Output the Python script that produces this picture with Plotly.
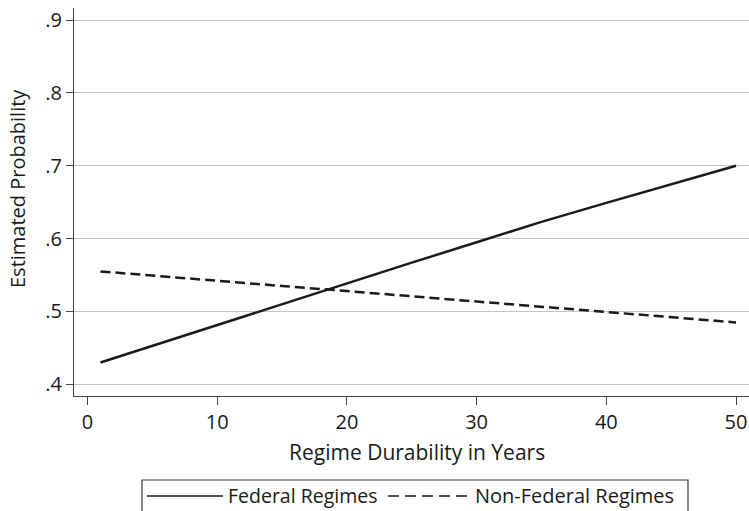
import plotly.graph_objects as go

# Data
years = [1, 5, 10, 15, 20, 25, 30, 35, 40, 45, 50]
federal = [0.430, 0.453, 0.481, 0.510, 0.539, 0.567, 0.595, 0.623, 0.649, 0.675, 0.700]
non_federal = [0.555, 0.549, 0.542, 0.535, 0.528, 0.521, 0.513, 0.506, 0.499, 0.492, 0.485]

x_ticks = [0, 10, 20, 30, 40, 50]
y_ticks = [0.4, 0.5, 0.6, 0.7, 0.8, 0.9]
y_tick_labels = [".4", ".5", ".6", ".7", ".8", ".9"]

W, H = 749, 511
L, R, T, B = 74, 0, 8, 115
PW, PH = W - L - R, H - T - B

FONT = "Open Sans"
INK = "#1a1a1a"

fig = go.Figure()
fig.add_trace(go.Scatter(x=years, y=federal, mode="lines", name="Federal Regimes",
                         line=dict(color=INK, width=2.5), showlegend=False))
fig.add_trace(go.Scatter(x=years, y=non_federal, mode="lines", name="Non-Federal Regimes",
                         line=dict(color=INK, width=2.5, dash="10px,5px"), showlegend=False))

def px(xp):
    return (xp - L) / PW

def py(yp):
    return (H - B - yp) / PH

shapes = [
    dict(type="rect", xref="paper", yref="paper", x0=px(142), x1=px(688), y0=py(480), y1=py(520),
         line=dict(color="#333333", width=1.2), fillcolor="rgba(0,0,0,0)"),
    dict(type="line", xref="paper", yref="paper", x0=px(147), x1=px(223), y0=py(496), y1=py(496),
         line=dict(color=INK, width=1.6)),
    dict(type="line", xref="paper", yref="paper", x0=px(388), x1=px(470), y0=py(496), y1=py(496),
         line=dict(color=INK, width=1.6, dash="11px,6px")),
]
annotations = [
    dict(xref="paper", yref="paper", x=px(226), y=py(495), text="Federal Regimes", showarrow=False,
         xanchor="left", yanchor="middle", font=dict(family=FONT, size=19.5, color=INK)),
    dict(xref="paper", yref="paper", x=px(473), y=py(495), text="Non-Federal Regimes", showarrow=False,
         xanchor="left", yanchor="middle", font=dict(family=FONT, size=20, color=INK)),
    dict(xref="paper", yref="paper", x=px(417), y=py(452), text="Regime Durability in Years", showarrow=False,
         xanchor="center", yanchor="middle", font=dict(family=FONT, size=21, color=INK)),
    dict(xref="paper", yref="paper", x=px(17), y=py(189), text="Estimated Probability", showarrow=False,
         textangle=-90, xanchor="center", yanchor="middle", font=dict(family=FONT, size=20, color=INK)),
]

fig.update_layout(
    width=W, height=H,
    margin=dict(l=L, r=R, t=T, b=B, pad=0),
    paper_bgcolor="white", plot_bgcolor="white",
    font=dict(family=FONT, size=20, color=INK),
    shapes=shapes, annotations=annotations,
    xaxis=dict(range=[-1.04, 51.0], tickvals=x_ticks, showgrid=False, zeroline=False,
               automargin=False,
               showline=True, linecolor="#444444", linewidth=1.2,
               ticks="outside", ticklen=8, tickcolor="#444444", tickwidth=1.2,
               tickfont=dict(family=FONT, size=20, color=INK)),
    yaxis=dict(range=[0.384, 0.9165], tickvals=y_ticks, ticktext=y_tick_labels,
               automargin=False,
               showgrid=True, gridcolor="#c4c4c4", gridwidth=1, zeroline=False,
               showline=True, linecolor="#444444", linewidth=1.2,
               ticks="outside", ticklen=7, tickcolor="#444444", tickwidth=1.2,
               tickfont=dict(family=FONT, size=20, color=INK)),
)

fig.write_html("out.html", config={"displayModeBar": False},
               post_script="document.body.style.margin='0';document.body.style.padding='0';")
